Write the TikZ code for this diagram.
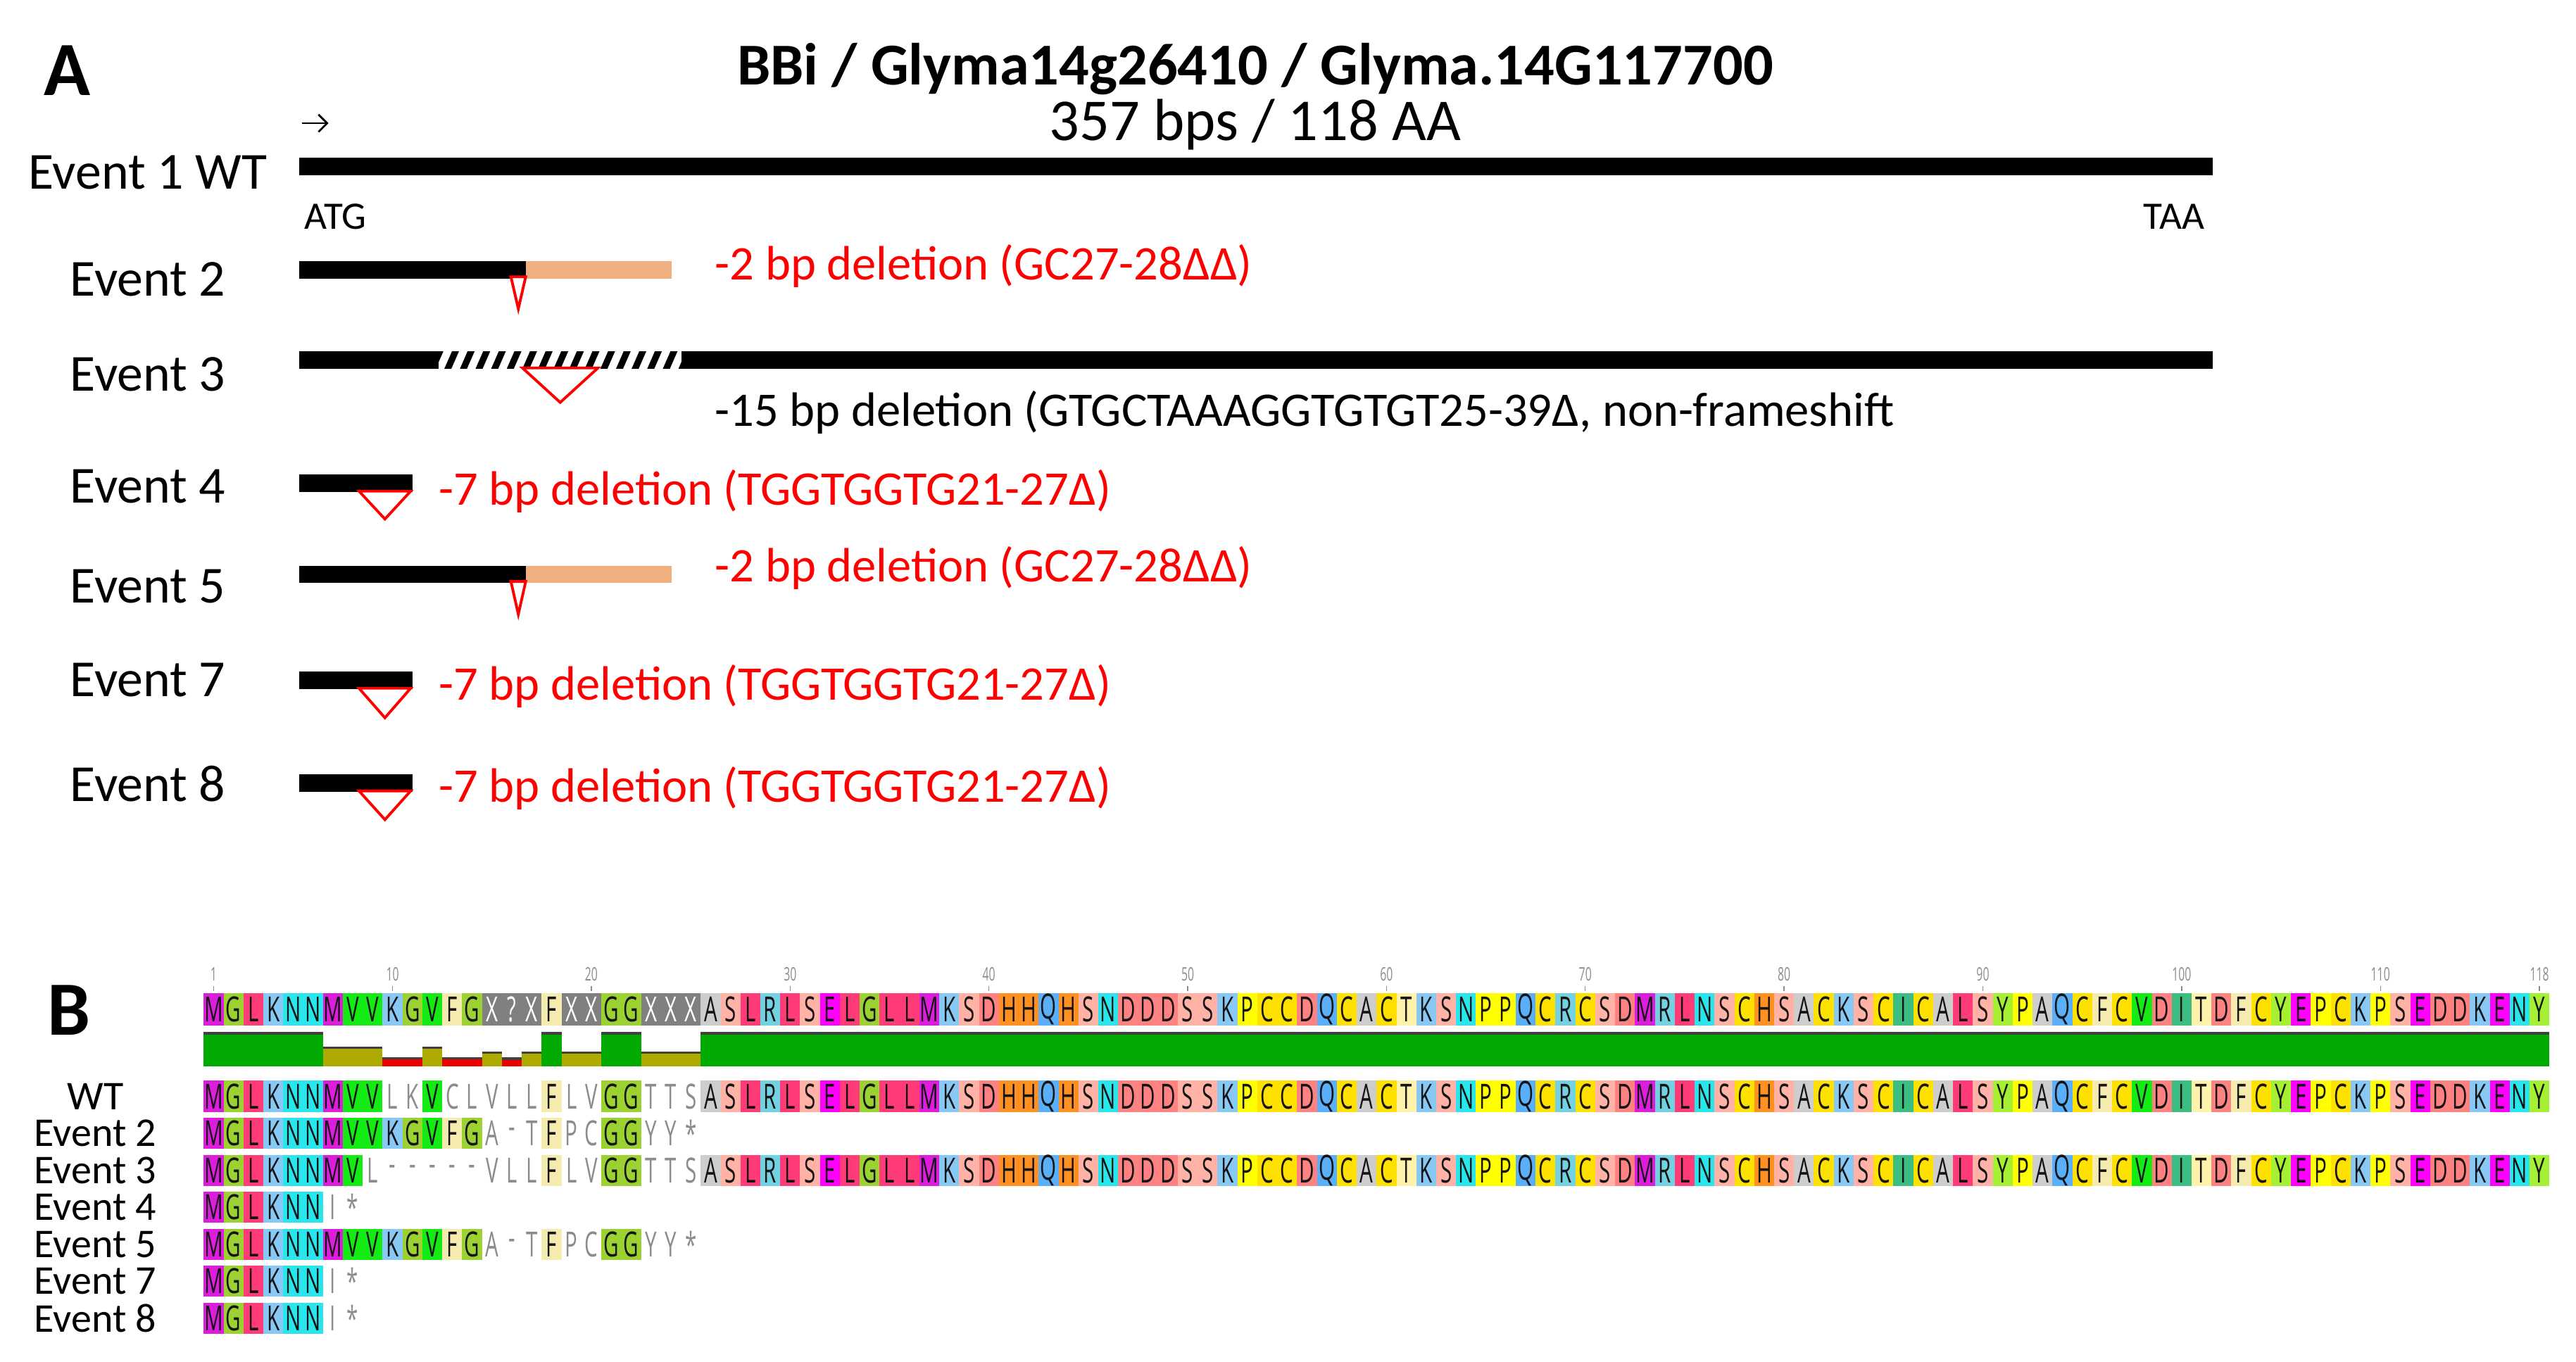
\documentclass[tikz,border=0pt]{standalone}
\usepackage{fontspec}
\setmainfont{Carlito}
\newfontfamily\seqfont[FakeStretch=0.6]{Open Sans}
\usetikzlibrary{arrows.meta}
\definecolor{aaM}{RGB}{220,30,220}
\definecolor{aaE}{RGB}{255,0,255}
\definecolor{aaG}{RGB}{155,210,50}
\definecolor{aaL}{RGB}{255,60,120}
\definecolor{aaK}{RGB}{135,200,245}
\definecolor{aaN}{RGB}{40,230,235}
\definecolor{aaV}{RGB}{20,235,20}
\definecolor{aaF}{RGB}{245,235,175}
\definecolor{aaX}{RGB}{128,128,128}
\definecolor{aaA}{RGB}{205,205,205}
\definecolor{aaS}{RGB}{255,178,165}
\definecolor{aaR}{RGB}{115,210,225}
\definecolor{aaD}{RGB}{255,130,130}
\definecolor{aaH}{RGB}{255,145,35}
\definecolor{aaQ}{RGB}{90,175,250}
\definecolor{aaP}{RGB}{255,255,0}
\definecolor{aaC}{RGB}{255,225,0}
\definecolor{aaT}{RGB}{255,242,170}
\definecolor{aaI}{RGB}{60,190,130}
\definecolor{aaY}{RGB}{165,240,50}
\definecolor{aan}{RGB}{255,255,255}
\definecolor{seqdark}{RGB}{20,20,20}
\definecolor{seqgray}{RGB}{140,140,140}
\definecolor{consgreen}{RGB}{0,170,0}
\definecolor{consolive}{RGB}{175,170,0}
\definecolor{consred}{RGB}{235,0,0}
\definecolor{cdsbeige}{RGB}{240,176,128}
\definecolor{delred}{RGB}{255,0,0}
\newcommand\aacell[6]{%
  \def\tcol{seqdark}%
  \if#6X\def\tcol{white}\fi
  \if#6n\def\tcol{seqgray}\fi
  \edef\bcol{aa#6}%
  \fill[fill=\bcol] ({124+(#2-1)*12.1},#3) rectangle ({124+#2*12.1},{#3+#4});
  \node[seqtxt,text=\tcol] (#1-#2) at ({124+(#2-0.5)*12.1},{#3+#4/2}) {#5};
}
\def\tailseq{A,S,L,R,L,S,E,L,G,L,L,M,K,S,D,H,H,Q,H,S,N,D,D,D,S,S,K,P,C,C,D,Q,C,A,C,T,K,S,N,P,P,Q,C,R,C,S,D,M,R,L,N,S,C,H,S,A,C,K,S,C,I,C,A,L,S,Y,P,A,Q,C,F,C,V,D,I,T,D,F,C,Y,E,P,C,K,P,S,E,D,D,K,E,N,Y}
\def\evtwo{M/M,G/G,L/L,K/K,N/N,N/N,M/M,V/V,V/V,K/K,G/G,V/V,F/F,G/G,A/n,-/n,T/n,F/F,P/n,C/n,G/G,G/G,Y/n,Y/n,*/n}
\def\evfour{M/M,G/G,L/L,K/K,N/N,N/N,I/n,*/n}
\begin{document}
\begin{tikzpicture}[x=0.023335cm,y=-0.023335cm,
  lab/.style={font=\fontsize{21}{25}\selectfont,inner sep=0pt},
  blab/.style={font=\fontsize{16.5}{20}\selectfont,inner sep=0pt},
  del/.style={font=\fontsize{19.5}{23}\selectfont,text=delred,anchor=west,inner sep=0pt},
  small/.style={font=\fontsize{15.7}{19}\selectfont,inner sep=0pt},
  panel/.style={font=\bfseries\fontsize{31}{36}\selectfont,inner sep=0pt},
  seqtxt/.style={font=\seqfont\fontsize{14}{16}\selectfont,inner sep=0pt},
  numtxt/.style={font=\seqfont\fontsize{7.5}{9}\selectfont,text=seqgray,inner sep=0pt},
  tri/.style={draw=delred,fill=white,line width=1.1pt,line join=miter}]
\useasboundingbox (0,0) rectangle (1568,829);

% ---------- Panel A ----------
\node[panel] (pA) at (41,43) {A};
\node[font=\bfseries\fontsize{24}{28}\selectfont,inner sep=0pt] (title) at (764,42) {BBi / Glyma14g26410 / Glyma.14G117700};
\node[font=\fontsize{24}{28}\selectfont,inner sep=0pt] (sub) at (764,76) {357 bps / 118 AA};
\coordinate (arrS) at (184,75);
\coordinate (arrE) at (200,75);
\draw[line width=0.8pt,-{Straight Barb[length=3.5pt,width=7pt]}] (arrS) -- (arrE);

% Event 1 WT
\node[lab] (l1) at (90,105) {Event 1 WT};
\fill (182,96) rectangle (1347,106.5);
\node[small,anchor=west] (atg) at (185,132) {ATG};
\node[small,anchor=east] (taa) at (1342,132) {TAA};

% Event 2
\node[lab] (l2) at (90,170) {Event 2};
\fill (182,159) rectangle (320,169.5);
\fill[cdsbeige] (320,159) rectangle (409,169.5);
\draw[tri] (311,168.5) -- (320,168.5) -- (315.5,188) -- cycle;
\node[del] (d2) at (435,162) {-2 bp deletion (GC27-28ΔΔ)};

% Event 3
\node[lab] (l3) at (90,228) {Event 3};
\fill (182,214) rectangle (267,224.5);
\fill (415,214) rectangle (1347,224.5);
\begin{scope}
  \clip (267,214) rectangle (415,224.5);
  \foreach \s in {0,...,16} \draw[line width=2.6pt] ({262+\s*9.5},227) -- ({269+\s*9.5},211);
\end{scope}
\draw[tri] (318,224) -- (364,224) -- (341,245) -- cycle;
\node[del,text=black] (d3) at (435,251) {-15 bp deletion (GTGCTAAAGGTGTGT25-39Δ, non-frameshift};

% Event 4
\node[lab] (l4) at (90,296) {Event 4};
\fill (182,289) rectangle (251,299.5);
\draw[tri] (218.5,299) -- (250,299) -- (234.3,316) -- cycle;
\node[del] (d4) at (267,299) {-7 bp deletion (TGGTGGTG21-27Δ)};

% Event 5
\node[lab] (l5) at (90,357) {Event 5};
\fill (182,344.5) rectangle (320,355);
\fill[cdsbeige] (320,344.5) rectangle (409,355);
\draw[tri] (311,354) -- (320,354) -- (315.5,374) -- cycle;
\node[del] (d5) at (435,346) {-2 bp deletion (GC27-28ΔΔ)};

% Event 7
\node[lab] (l7) at (90,414) {Event 7};
\fill (182,409) rectangle (251,419.5);
\draw[tri] (218.5,419) -- (250,419) -- (234.3,437) -- cycle;
\node[del] (d7) at (267,418) {-7 bp deletion (TGGTGGTG21-27Δ)};

% Event 8
\node[lab] (l8) at (90,477) {Event 8};
\fill (182,471.5) rectangle (251,482);
\draw[tri] (218.5,481.5) -- (250,481.5) -- (234.3,499) -- cycle;
\node[del] (d8) at (267,480) {-7 bp deletion (TGGTGGTG21-27Δ)};

% ---------- Panel B ----------
\node[panel] (pB) at (42,615) {B};

% ruler
\foreach \n in {1,10,20,30,40,50,60,70,80,90,100,110,118}{
  \node[numtxt] (num-\n) at ({124+(\n-0.5)*12.1},593) {\n};
  \draw[seqgray,line width=0.4pt] ({124+(\n-0.5)*12.1},600.5) -- ({124+(\n-0.5)*12.1},603.5);
}

% consensus
\foreach \ch/\k [count=\i] in {M/M,G/G,L/L,K/K,N/N,N/N,M/M,V/V,V/V,K/K,G/G,V/V,F/F,G/G,X/X,?/X,X/X,F/F,X/X,X/X,G/G,G/G,X/X,X/X,X/X}{
  \aacell{cons}{\i}{604.5}{20}{\ch}{\k}
}
\foreach \c [count=\i from 26] in \tailseq {\aacell{cons}{\i}{604.5}{20}{\c}{\c}}

% conservation bars
\foreach \i/\t/\col in {1/629.1/consgreen,2/629.1/consgreen,3/629.1/consgreen,4/629.1/consgreen,5/629.1/consgreen,6/629.1/consgreen,
  7/637.8/consolive,8/637.8/consolive,9/637.8/consolive,10/644.3/consred,11/644.3/consred,12/637.8/consolive,
  13/644.3/consred,14/644.3/consred,15/640.7/consolive,16/644.5/consred,17/640.8/consolive,18/629.1/consgreen,
  19/640.8/consolive,20/640.8/consolive,21/629.1/consgreen,22/629.1/consgreen,23/641/consolive,24/641/consolive,25/641/consolive}{
  \fill[\col] ({124+(\i-1)*12.1},\t) rectangle ({124+\i*12.1},649.4);
  \draw[black!75,line width=0.9pt] ({124+(\i-1)*12.1},\t) -- ({124+\i*12.1},\t);
}
\fill[consgreen] ({124+25*12.1},629.1) rectangle ({124+118*12.1},649.4);
\draw[black!75,line width=0.9pt] ({124+25*12.1},629.1) -- ({124+118*12.1},629.1);

% WT
\node[blab] (bWT) at (58,667.5) {WT};
\foreach \ch/\k [count=\i] in {M/M,G/G,L/L,K/K,N/N,N/N,M/M,V/V,V/V,L/n,K/n,V/V,C/n,L/n,V/n,L/n,L/n,F/F,L/n,V/n,G/G,G/G,T/n,T/n,S/n}{
  \aacell{wt}{\i}{658}{19}{\ch}{\k}
}
\foreach \c [count=\i from 26] in \tailseq {\aacell{wt}{\i}{658}{19}{\c}{\c}}

% Event 2
\node[blab] (b2) at (58,690) {Event 2};
\foreach \ch/\k [count=\i] in \evtwo {\aacell{etwo}{\i}{680.5}{19}{\ch}{\k}}

% Event 3
\node[blab] (b3) at (58,712.5) {Event 3};
\foreach \ch/\k [count=\i] in {M/M,G/G,L/L,K/K,N/N,N/N,M/M,V/V,L/n,-/n,-/n,-/n,-/n,-/n,V/n,L/n,L/n,F/F,L/n,V/n,G/G,G/G,T/n,T/n,S/n}{
  \aacell{ethree}{\i}{703}{19}{\ch}{\k}
}
\foreach \c [count=\i from 26] in \tailseq {\aacell{ethree}{\i}{703}{19}{\c}{\c}}

% Event 4
\node[blab] (b4) at (58,735) {Event 4};
\foreach \ch/\k [count=\i] in \evfour {\aacell{efour}{\i}{725.5}{19}{\ch}{\k}}

% Event 5
\node[blab] (b5) at (58,757.5) {Event 5};
\foreach \ch/\k [count=\i] in \evtwo {\aacell{efive}{\i}{748}{19}{\ch}{\k}}

% Event 7
\node[blab] (b7) at (58,780) {Event 7};
\foreach \ch/\k [count=\i] in \evfour {\aacell{eseven}{\i}{770.5}{19}{\ch}{\k}}

% Event 8
\node[blab] (b8) at (58,802.5) {Event 8};
\foreach \ch/\k [count=\i] in \evfour {\aacell{eeight}{\i}{793}{19}{\ch}{\k}}

\end{tikzpicture}
\end{document}
